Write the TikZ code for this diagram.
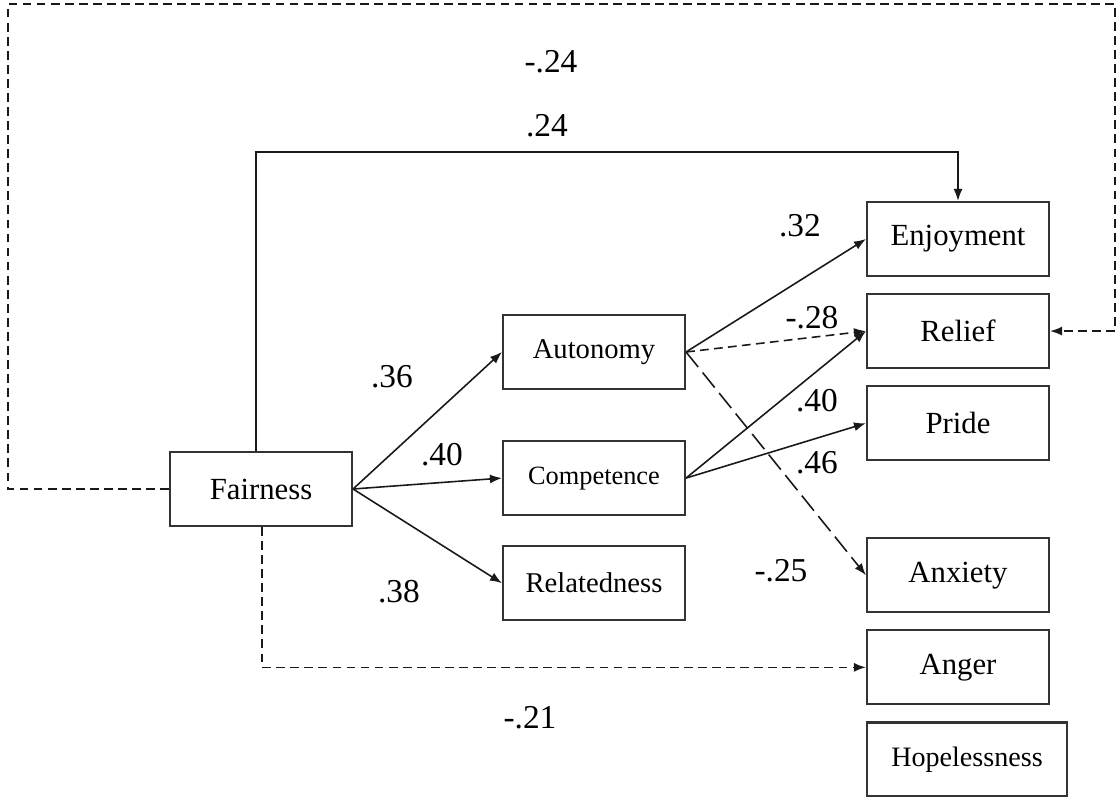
\documentclass[tikz,border=0pt]{standalone}
\usepackage{fontspec}
\setmainfont{Liberation Serif}
\usetikzlibrary{positioning}
\usetikzlibrary{arrows.meta}
\tikzset{
        % Variable boxes
        var_box/.style={rectangle, draw=black!80, line width=1.2pt, align=center, minimum width=3.64cm, minimum height=1.48cm, inner sep=0pt, font=\fontsize{17.5}{20}\selectfont},
        % Smaller text in the mediator boxes
        var_small/.style={var_box, font=\fontsize{16.3}{19}\selectfont},
        % Path coefficients
        coef/.style={inner sep=0pt, font=\fontsize{19}{22}\selectfont},
        % Positive paths
        path_pos/.style={line width=0.9pt, draw=black!90, -{Latex[length=2.4mm,width=1.8mm]}},
        % Negative paths
        path_neg/.style={path_pos, dash pattern=on 5pt off 3pt},
        path_long/.style={path_pos, dash pattern=on 11pt off 4pt}
}
\begin{document}
\begin{tikzpicture}[x=0.02cm, y=-0.02cm]
    \useasboundingbox (0,0) rectangle (1118,803);
    % Predictor
    \node[var_box] (fair) at (261,489) {Fairness};
    % Mediators
    \node[var_small] (auto) at (594,352) {Autonomy};
    \node[var_small, font=\fontsize{15}{18}\selectfont, below=1.0cm of auto] (comp) {Competence};
    \node[var_small, below=0.58cm of comp] (rela) {Relatedness};
    % Emotions
    \node[var_box] (enjoy) at (958,239) {Enjoyment};
    \node[var_box, below=0.32cm of enjoy] (relief) {Relief};
    \node[var_box, below=0.32cm of relief] (pride) {Pride};
    \node[var_box, below=1.52cm of pride] (anx) {Anxiety};
    \node[var_box, below=0.32cm of anx] (anger) {Anger};
    \node[var_small, minimum width=4.0cm, font=\fontsize{16}{19}\selectfont, below right=0.32cm and 0cm of anger.south west] (hope) {Hopelessness};

    % Bends of the long paths
    \coordinate (top_bend) at (256,152);
    \coordinate (outer_l) at (8,4);
    \coordinate (outer_r) at (1115,4);
    \coordinate (low_bend) at (262,667);

    \draw[path_pos] (fair.north -| top_bend) -- (top_bend) -| (enjoy.north);
    \draw[path_neg] (fair.west) -| (outer_l) -- (outer_r) |- (relief.east);
    \draw[path_neg] (fair.south -| low_bend) |- (anger.west);

    \draw[path_pos] (fair.east) -- (auto.west);
    \draw[path_pos] (fair.east) -- (comp.west);
    \draw[path_pos] (fair.east) -- (rela.west);

    \draw[path_pos] (auto.east) -- (enjoy.west);
    \draw[path_neg] (auto.east) -- (relief.west);
    \draw[path_long] (auto.east) -- (anx.west);
    \draw[path_pos] (comp.east) -- (relief.west);
    \draw[path_pos] (comp.east) -- (pride.west);

    % Coefficients
    \node[coef] (c_out) at (551,62) {-.24};
    \node[coef] (c_top) at (547,126) {.24};
    \node[coef] (c_auto) at (392,377) {.36};
    \node[coef] (c_comp) at (442,455) {.40};
    \node[coef] (c_rela) at (399,592) {.38};
    \node[coef] (c_enjoy) at (800,226) {.32};
    \node[coef] (c_relief) at (812,318) {-.28};
    \node[coef] (c_comp_rel) at (817,401) {.40};
    \node[coef] (c_pride) at (817,463) {.46};
    \node[coef] (c_anx) at (781,571) {-.25};
    \node[coef] (c_anger) at (530,718) {-.21};
\end{tikzpicture}
\end{document}
